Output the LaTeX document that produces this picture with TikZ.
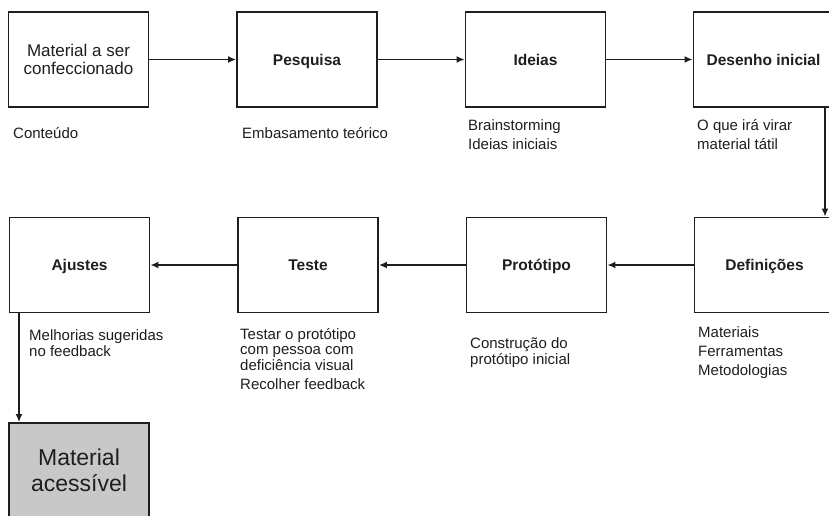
\documentclass[tikz,border=0pt]{standalone}
\usepackage{fontspec}
\setmainfont{Liberation Sans}
\usetikzlibrary{arrows.meta}
\definecolor{ink}{HTML}{1E1E1E}
\definecolor{finalgray}{HTML}{C8C8C8}
\tikzset{
  stage/.style={draw=ink, line width=1.8pt, minimum width=140pt, minimum height=95pt, inner sep=0pt, text=ink, align=center},
  boldlbl/.style={font=\fontsize{15.5}{18}\selectfont\bfseries, text height=11.1pt, text depth=0pt},
  desc/.style={anchor=base west, inner sep=0pt, align=left, text=ink},
  flow/.style={draw=ink, line width=1.8pt, -{Latex[length=8pt,width=7pt]}}
}
\begin{document}
\begin{tikzpicture}[x=1pt,y=-1pt]
\useasboundingbox (0,0) rectangle (829,515);
\clip (0,0) rectangle (829,515);
% top row
\node[stage, font=\fontsize{17}{17.5}\selectfont] (m1) at (78.5,59.5) {Material a ser\\confeccionado};
\node[stage, boldlbl] (pesq) at (307,59.5) {Pesquisa};
\node[stage, boldlbl] (ideias) at (535.5,59.5) {Ideias};
\node[stage, boldlbl] (desenho) at (763.5,59.5) {Desenho inicial};
% second row
\node[stage, boldlbl] (ajustes) at (79.5,265) {Ajustes};
\node[stage, boldlbl] (teste) at (308,265) {Teste};
\node[stage, boldlbl] (prot) at (536.5,265) {Protótipo};
\node[stage, boldlbl] (def) at (764.5,265) {Definições};
% final
\node[stage, fill=finalgray, font=\fontsize{23}{26}\selectfont] (final) at (79,470.5) {Material\\acessível};
% descriptions (base anchor = baseline of the last line)
\node[desc, font=\fontsize{15}{18}\selectfont] (d1) at (13,138.5) {Conteúdo};
\node[desc, font=\fontsize{15}{18}\selectfont] (d2) at (242,138.5) {Embasamento teórico};
\node[desc, font=\fontsize{15}{18.5}\selectfont] (d3) at (468,149) {Brainstorming\\Ideias iniciais};
\node[desc, font=\fontsize{15}{18.5}\selectfont] (d4) at (697,149) {O que irá virar\\material tátil};
\node[desc, font=\fontsize{15}{15.5}\selectfont] (d5) at (29,356) {Melhorias sugeridas\\no feedback};
\node[desc, font=\fontsize{15}{15.5}\selectfont] (d6) at (240,370) {Testar o protótipo\\com pessoa com\\deficiência visual};
\node[desc, font=\fontsize{15}{18}\selectfont] (d6b) at (240,389.5) {Recolher feedback};
\node[desc, font=\fontsize{15}{16}\selectfont] (d7) at (470,364.3) {Construção do\\protótipo inicial};
\node[desc, font=\fontsize{15}{19}\selectfont] (d8) at (698,375.7) {Materiais\\Ferramentas\\Metodologias};
% connectors
\coordinate (vx) at (825,0);
\coordinate (vy) at (19,0);
\draw[flow] (m1.east) -- (pesq.west);
\draw[flow] (pesq.east) -- (ideias.west);
\draw[flow] (ideias.east) -- (desenho.west);
\draw[flow] (desenho.south -| vx) -- (def.north -| vx);
\draw[flow] (def.west) -- (prot.east);
\draw[flow] (prot.west) -- (teste.east);
\draw[flow] (teste.west) -- (ajustes.east);
\draw[flow] (ajustes.south -| vy) -- (final.north -| vy);
\end{tikzpicture}
\end{document}
